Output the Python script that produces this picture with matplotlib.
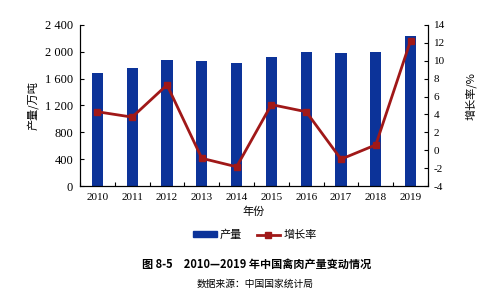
import numpy as np
import matplotlib.pyplot as plt
from matplotlib.lines import Line2D
from matplotlib.patches import Patch

years = ["2010", "2011", "2012", "2013", "2014", "2015", "2016", "2017", "2018", "2019"]
output = [1690, 1756, 1878, 1863, 1829, 1918, 2002, 1978, 1993, 2240]
growth = [4.3, 3.7, 7.3, -0.9, -1.85, 5.1, 4.3, -1.0, 0.6, 12.25]

left_ticks = [0, 400, 800, 1200, 1600, 2000, 2400]
left_labels = ["0", "400", "800", "1 200", "1 600", "2 000", "2 400"]
right_ticks = [-4, -2, 0, 2, 4, 6, 8, 10, 12, 14]

num_font = "Liberation Serif"
cjk_font = ["Noto Sans CJK SC", "DejaVu Sans"]
bar_color = "#0c3399"
line_color = "#a01818"

fig = plt.figure(figsize=(5.0, 3.08), dpi=100)
ax = fig.add_axes([0.16, 0.396, 0.696, 0.523])
x = np.arange(len(years))

ax.bar(x, output, width=0.32, color=bar_color, zorder=2)
ax.set_xlim(-0.5, len(years) - 0.5)
ax.set_ylim(0, 2400)
ax.set_yticks(left_ticks)
ax.set_yticklabels(left_labels, fontfamily=num_font, fontsize=9)
ax.set_xticks(x)
ax.set_xticklabels(years, fontfamily=num_font, fontsize=8)
ax.tick_params(axis="x", length=0, pad=5)
ax.set_xticks(np.arange(len(years) + 1) - 0.5, minor=True)
ax.tick_params(axis="x", which="minor", direction="in", length=3, width=0.8)
ax.tick_params(axis="y", direction="in", length=3, width=0.8, pad=5)
ax.spines["top"].set_visible(False)
for s in ["left", "bottom", "right"]:
    ax.spines[s].set_linewidth(0.8)
ax.set_ylabel("产量/万吨", fontfamily=cjk_font, fontsize=8)
ax.yaxis.set_label_coords(-0.12, 0.5)
ax.set_xlabel("年份", fontfamily=cjk_font, fontsize=8, labelpad=3)

ax2 = ax.twinx()
ax2.plot(x, growth, color=line_color, lw=2, marker="s", ms=4.5,
         mfc=line_color, mec=line_color, zorder=3)
ax2.set_ylim(-4, 14)
ax2.set_yticks(right_ticks)
ax2.set_yticklabels([str(t) for t in right_ticks], fontfamily=num_font, fontsize=8)
ax2.tick_params(axis="y", direction="in", length=3, width=0.8, pad=4)
ax2.spines["top"].set_visible(False)
ax2.spines["right"].set_linewidth(0.8)
ax2.set_ylabel("增长率/%", fontfamily=cjk_font, fontsize=8, rotation=90)
ax2.yaxis.set_label_coords(1.107, 0.56)

handles = [Patch(color=bar_color, label="产量"),
           Line2D([], [], color=line_color, lw=2, marker="s", ms=4.5, label="增长率")]
fig.legend(handles=handles, loc="center", bbox_to_anchor=(0.51, 0.237), ncol=2,
           frameon=False, prop={"family": cjk_font, "size": 8},
           handlelength=2.1, handleheight=0.5, columnspacing=1.3, handletextpad=0.3)

fig.text(0.513, 0.142, "图 8-5　2010—2019 年中国禽肉产量变动情况", ha="center", va="center",
         fontfamily=cjk_font, fontsize=8, fontweight="bold")
fig.text(0.51, 0.078, "数据来源：中国国家统计局", ha="center", va="center",
         fontfamily=cjk_font, fontsize=7)

fig.savefig("out.png", dpi=100)
